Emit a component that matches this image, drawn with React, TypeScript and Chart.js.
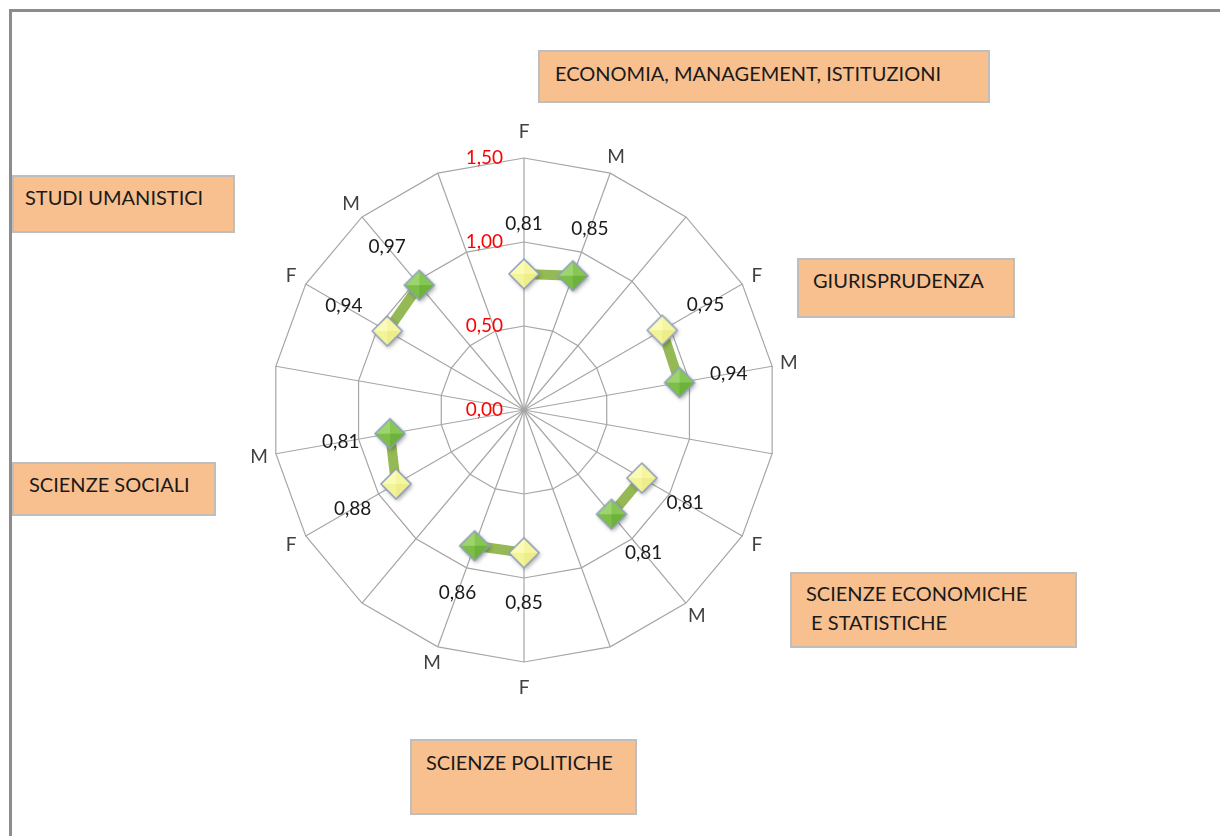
import React, { useEffect, useRef } from "react";
import { Chart, registerables } from "chart.js";

Chart.register(...registerables);

const categories = ["F", "M", "", "F", "M", "", "F", "M", "", "F", "M", "", "F", "M", "", "F", "M", ""];
const values: (number | null)[] = [0.81, 0.85, null, 0.95, 0.94, null, 0.81, 0.81, null, 0.85, 0.86, null, 0.88, 0.81, null, 0.94, 0.97, null];
const tickValues = [0, 0.5, 1.0, 1.5];
const groupNames = [
  "ECONOMIA, MANAGEMENT, ISTITUZIONI",
  "GIURISPRUDENZA",
  "SCIENZE ECONOMICHE\n E STATISTICHE",
  "SCIENZE POLITICHE",
  "SCIENZE SOCIALI",
  "STUDI UMANISTICI",
];

const FONT = "Lato, 'Open Sans', sans-serif";
const fmt = (v: number) => v.toFixed(2).replace(".", ",");

const boxes = [
  { left: 538, top: 50, width: 452, height: 53, padL: 15, padT: 7 },
  { left: 797, top: 258, width: 218, height: 60, padL: 14, padT: 6 },
  { left: 790, top: 572, width: 287, height: 76, padL: 14, padT: 5 },
  { left: 410, top: 739, width: 227, height: 76, padL: 14, padT: 7 },
  { left: 12, top: 462, width: 204, height: 54, padL: 15, padT: 6 },
  { left: 12, top: 175, width: 223, height: 58, padL: 11, padT: 6 },
];

function makeMarker(facets: string[], border: string) {
  const S = 40;
  const c = document.createElement("canvas");
  c.width = S;
  c.height = S;
  const g = c.getContext("2d")!;
  const cx = S / 2, cy = S / 2, r = 15;
  g.save();
  g.shadowColor = "rgba(0,0,0,0.35)";
  g.shadowBlur = 4;
  g.shadowOffsetX = 1.5;
  g.shadowOffsetY = 2;
  g.beginPath();
  g.moveTo(cx, cy - r);
  g.lineTo(cx + r, cy);
  g.lineTo(cx, cy + r);
  g.lineTo(cx - r, cy);
  g.closePath();
  g.fillStyle = facets[0];
  g.fill();
  g.restore();
  const pts = [
    [cx, cy - r],
    [cx + r, cy],
    [cx, cy + r],
    [cx - r, cy],
  ];
  const tri = [
    [pts[3], pts[0]],
    [pts[0], pts[1]],
    [pts[1], pts[2]],
    [pts[2], pts[3]],
  ];
  tri.forEach((t, i) => {
    g.beginPath();
    g.moveTo(cx, cy);
    g.lineTo(t[0][0], t[0][1]);
    g.lineTo(t[1][0], t[1][1]);
    g.closePath();
    g.fillStyle = facets[i];
    g.fill();
  });
  g.beginPath();
  g.moveTo(pts[0][0], pts[0][1]);
  g.lineTo(pts[1][0], pts[1][1]);
  g.lineTo(pts[2][0], pts[2][1]);
  g.lineTo(pts[3][0], pts[3][1]);
  g.closePath();
  g.lineWidth = 1.5;
  g.strokeStyle = border;
  g.stroke();
  return c;
}

const labelPlugin = {
  id: "customLabels",
  afterDraw(chart: any) {
    const ctx = chart.ctx;
    const scale = chart.scales.r;
    const R = scale.drawingArea;
    ctx.save();
    ctx.font = `19px ${FONT}`;
    ctx.fillStyle = "#404040";
    ctx.textAlign = "center";
    ctx.textBaseline = "middle";
    categories.forEach((c, i) => {
      if (!c) return;
      const ang = (i * 2 * Math.PI) / categories.length;
      const d = R + 17 + (Math.abs(Math.cos(ang)) > 0.99 ? 9 : 0);
      const p = scale.getPointPosition(i, d);
      ctx.fillText(c, p.x, p.y);
    });
    ctx.font = `19px ${FONT}`;
    ctx.fillStyle = "#FF0000";
    ctx.textAlign = "right";
    tickValues.forEach((v) => {
      const d = scale.getDistanceFromCenterForValue(v);
      ctx.fillText(fmt(v), scale.xCenter - 21, scale.yCenter - d);
    });
    ctx.fillStyle = "#1A1A1A";
    ctx.textAlign = "center";
    values.forEach((v, i) => {
      if (v == null) return;
      const d = scale.getDistanceFromCenterForValue(v) + 50;
      const p = scale.getPointPosition(i, d);
      ctx.fillText(fmt(v), p.x, p.y);
    });
    ctx.restore();
  },
};

export default function App() {
  const ref = useRef<HTMLCanvasElement>(null);
  useEffect(() => {
    if (!ref.current) return;
    const yellow = makeMarker(["#FBFBB8", "#F6F6A0", "#EDED8C", "#F3F39A"], "#8E9FBC");
    const green = makeMarker(["#9ED46E", "#86C653", "#6DB23A", "#7CBE47"], "#8E9FBC");
    const styles = categories.map((c) => (c === "F" ? yellow : green));
    const chart = new Chart(ref.current, {
      type: "radar",
      data: {
        labels: categories,
        datasets: [
          {
            data: values as any,
            borderColor: "#95B954",
            borderWidth: 10,
            backgroundColor: "transparent",
            fill: false,
            spanGaps: false,
            pointStyle: styles as any,
            pointRadius: 15,
          },
        ],
      },
      options: {
        responsive: false,
        animation: false,
        layout: { padding: { left: 272, top: 158, right: 444, bottom: 174 } },
        plugins: { legend: { display: false }, tooltip: { enabled: false } },
        scales: {
          r: {
            min: 0,
            max: 1.5,
            ticks: { stepSize: 0.5, display: false },
            grid: { color: "#A6A6A6", lineWidth: 1.2 },
            angleLines: { color: "#A6A6A6", lineWidth: 1.2 },
            pointLabels: { display: false },
          },
        },
      },
      plugins: [labelPlugin],
    });
    return () => chart.destroy();
  }, []);

  return (
    <div style={{ position: "absolute", left: 0, top: 0, width: 1220, height: 836, overflow: "hidden", background: "#fff" }}>
      <div
        style={{
          position: "absolute",
          left: 9,
          top: 9,
          width: 1211,
          height: 827,
          borderTop: "3px solid #8C8C8C",
          borderLeft: "3px solid #8C8C8C",
          boxSizing: "border-box",
        }}
      />
      <canvas ref={ref} width={1220} height={836} style={{ position: "absolute", left: 0, top: 0, width: 1220, height: 836 }} />
      {boxes.map((b, i) => (
        <div
          key={i}
          style={{
            position: "absolute",
            left: b.left,
            top: b.top,
            width: b.width,
            height: b.height,
            boxSizing: "border-box",
            background: "#F9C08F",
            border: "2px solid #BEBEBE",
            paddingLeft: b.padL,
            paddingTop: b.padT,
            fontFamily: FONT,
            fontSize: 20,
            lineHeight: "29px",
            color: "#1A1A1A",
            whiteSpace: "pre",
          }}
        >
          {groupNames[i]}
        </div>
      ))}
    </div>
  );
}
